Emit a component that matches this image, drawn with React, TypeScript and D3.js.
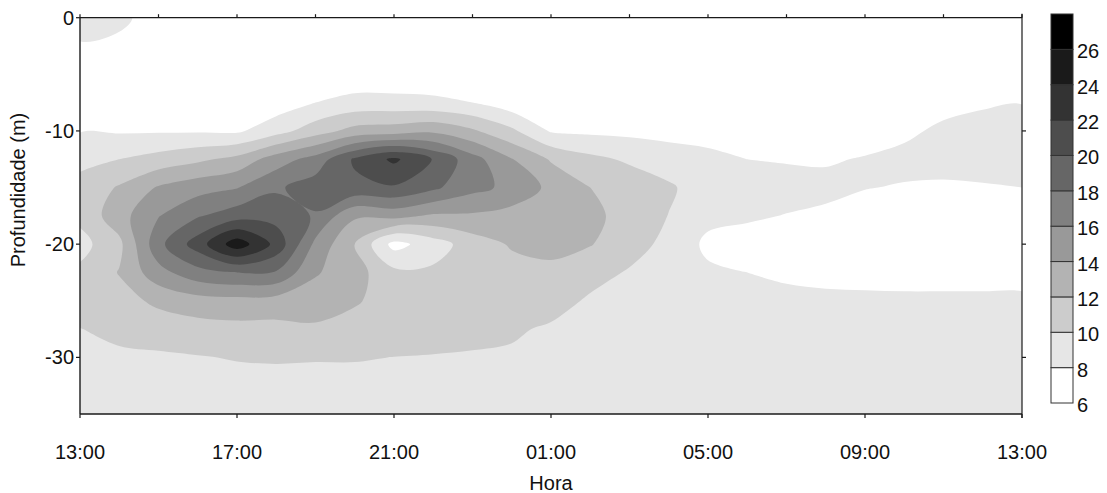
import React from 'react';
import * as d3 from 'd3';

// grid: hours after 13:00 (columns) x depth in m (rows)
const horas = [0, 1, 2, 3, 4, 5, 6, 7, 8, 9, 10, 11, 12, 13, 14, 15, 16, 17, 18, 19, 20, 21, 22, 23, 24];
const profundidades = [0, -2.5, -5, -7.5, -10, -12.5, -15, -17.5, -20, -22.5, -25, -27.5, -30, -32.5, -35];

// values, one row per depth
const p00 = [9.0, 8.4, 7.2, 7.0, 6.8, 6.7, 6.6, 6.5, 6.4, 6.4, 6.4, 6.4, 6.4, 6.4, 6.4, 6.4, 6.4, 6.4, 6.4, 6.4, 6.4, 6.4, 6.5, 6.6, 6.6];
const p25 = [7.8, 7.6, 7.0, 6.9, 6.8, 6.7, 6.6, 6.5, 6.4, 6.4, 6.4, 6.4, 6.4, 6.4, 6.4, 6.4, 6.5, 6.5, 6.5, 6.5, 6.5, 6.5, 6.6, 6.7, 6.8];
const p50 = [7.2, 7.0, 6.9, 6.9, 6.8, 6.7, 6.7, 6.6, 6.5, 6.5, 6.6, 6.6, 6.6, 6.5, 6.5, 6.5, 6.6, 6.6, 6.6, 6.6, 6.6, 6.7, 6.8, 7.0, 7.2];
const p75 = [7.3, 7.2, 7.0, 7.0, 7.0, 6.9, 8.0, 8.7, 8.7, 8.5, 8.0, 6.8, 6.9, 6.8, 6.8, 6.8, 6.9, 6.9, 6.9, 6.9, 6.9, 7.1, 7.5, 7.8, 7.95];
const p100 = [7.9, 7.8, 7.8, 7.8, 7.7, 9.2, 11.1, 12.7, 13.0, 13.6, 12.3, 10.4, 7.8, 7.6, 7.5, 7.4, 7.4, 7.3, 7.3, 7.3, 7.3, 7.7, 8.3, 8.6, 8.7];
const p125 = [9.5, 10.0, 10.75, 11.6, 12.6, 15.0, 16.8, 20.3, 22.4, 19.9, 16.8, 14.1, 11.8, 10.5, 9.7, 8.9, 8.4, 8.0, 7.9, 7.85, 8.1, 8.4, 8.5, 8.5, 8.6];
const p150 = [10.6, 12.2, 14.2, 15.2, 15.9, 17.7, 19.0, 19.5, 19.8, 18.4, 16.6, 15.5, 13.5, 12.0, 11.2, 10.3, 8.9, 8.7, 8.5, 8.4, 8.05, 7.9, 7.8, 7.9, 8.0];
const p175 = [10.5, 13.2, 15.9, 17.8, 19.1, 19.2, 17.8, 14.3, 14.7, 13.7, 13.7, 13.2, 13.6, 12.4, 11.4, 9.95, 8.5, 8.2, 7.95, 7.7, 7.4, 7.3, 7.3, 7.3, 7.4];
const p200 = [9.3, 11.5, 17.4, 21.0, 25.2, 21.4, 15.5, 12.0, 7.3, 9.0, 11.0, 12.2, 12.5, 12.1, 10.9, 9.4, 7.6, 7.4, 7.3, 7.2, 7.1, 7.0, 7.0, 7.0, 7.1];
const p225 = [10.4, 12.1, 15.3, 17.3, 18.0, 17.8, 14.2, 12.8, 10.5, 10.4, 11.2, 11.3, 11.6, 10.8, 9.8, 9.0, 8.3, 8.0, 7.8, 7.6, 7.5, 7.4, 7.4, 7.4, 7.4];
const p250 = [10.8, 11.3, 12.4, 13.2, 13.4, 13.2, 13.0, 12.2, 11.2, 11.0, 11.0, 10.9, 10.9, 9.7, 9.2, 8.7, 8.6, 8.4, 8.3, 8.3, 8.3, 8.3, 8.3, 8.3, 8.3];
const p275 = [9.95, 10.6, 11.0, 11.2, 11.4, 11.4, 11.7, 11.3, 11.0, 10.8, 10.6, 10.3, 9.7, 9.0, 8.8, 8.6, 8.6, 8.5, 8.5, 8.5, 8.5, 8.5, 8.5, 8.5, 8.5];
const p300 = [9.5, 9.6, 9.7, 9.9, 10.1, 10.15, 10.1, 10.1, 9.98, 9.9, 9.8, 9.7, 9.2, 8.7, 8.6, 8.5, 8.5, 8.5, 8.5, 8.5, 8.5, 8.5, 8.5, 8.5, 8.5];
const p325 = [9.1, 9.1, 9.2, 9.3, 9.4, 9.5, 9.5, 9.5, 9.5, 9.5, 9.4, 9.3, 9.0, 8.6, 8.5, 8.5, 8.5, 8.5, 8.5, 8.5, 8.5, 8.5, 8.5, 8.5, 8.5];
const p350 = [8.7, 8.8, 8.9, 9.0, 9.1, 9.2, 9.2, 9.2, 9.2, 9.2, 9.1, 9.1, 8.9, 8.6, 8.5, 8.5, 8.5, 8.5, 8.5, 8.5, 8.5, 8.5, 8.5, 8.5, 8.5];

const grade = [p00, p25, p50, p75, p100, p125, p150, p175, p200, p225, p250, p275, p300, p325, p350];

const niveis = [6, 8, 10, 12, 14, 16, 18, 20, 22, 24, 26, 28];
const horaTicks = [0, 4, 8, 12, 16, 20, 24];
const horaLabels = ['13:00', '17:00', '21:00', '01:00', '05:00', '09:00', '13:00'];
const horaMinor = [0, 2, 4, 6, 8, 10, 12, 14, 16, 18, 20, 22, 24];
const profTicks = [0, -10, -20, -30];

const font = '"Liberation Sans", Arial, sans-serif';
const fs = 20;

export default function App() {
  const left = 80, right = 1022, top = 17.7, bottom = 414;
  const x = d3.scaleLinear().domain([0, 24]).range([left, right]);
  const y = d3.scaleLinear().domain([0, -35]).range([top, bottom]);

  const nx = horas.length;
  const ny = profundidades.length;
  // d3.contours puts value i at grid position i + 0.5
  const gx = d3.scaleLinear().domain([0.5, nx - 0.5]).range([x(horas[0]), x(horas[nx - 1])]);
  const gy = d3.scaleLinear().domain([0.5, ny - 0.5]).range([y(profundidades[0]), y(profundidades[ny - 1])]);

  const cor = d3.scaleLinear<string>().domain([0, niveis.length - 2]).range(['#ffffff', '#000000']);
  const corDe = (v: number) => cor((v - niveis[0]) / 2);

  const contours = d3.contours().size([nx, ny]).thresholds(niveis.slice(1, -1))(grade.flat());
  const line = d3.line().curve(d3.curveCatmullRomClosed.alpha(0.5));

  const pathOf = (mp: any) =>
    mp.coordinates
      .map((poly: number[][][]) =>
        poly.map((ring) => line(ring.slice(0, -1).map(([a, b]) => [gx(a), gy(b)] as [number, number]))).join('')
      )
      .join('');

  // colour bar
  const cbX = 1051, cbW = 22, cbTop = 14, cbBottom = 403;
  const cb = d3.scaleLinear().domain([niveis[0], niveis[niveis.length - 1]]).range([cbBottom, cbTop]);

  const axis = '#1a1a1a';

  return (
    <svg width={1107} height={493} style={{ display: 'block', position: 'absolute', left: 0, top: 0 }}>
      <defs>
        <clipPath id="plot">
          <rect x={left} y={top} width={right - left} height={bottom - top} />
        </clipPath>
      </defs>
      <rect x={0} y={0} width={1107} height={493} fill="#fff" />

      <g clipPath="url(#plot)">
        <rect x={left} y={top} width={right - left} height={bottom - top} fill={corDe(niveis[0])} />
        {contours.map((c, i) => (
          <path key={i} d={pathOf(c)} fill={corDe(c.value)} fillRule="evenodd" stroke="none" />
        ))}
      </g>

      {/* frame */}
      <line x1={left} x2={right} y1={top} y2={top} stroke={axis} strokeWidth={1.2} />
      <line x1={left} x2={right} y1={bottom} y2={bottom} stroke={axis} strokeWidth={1.4} />
      <line x1={left} x2={left} y1={top} y2={bottom} stroke={axis} strokeWidth={1.4} />
      <line x1={right} x2={right} y1={top - 4} y2={bottom + 4} stroke={axis} strokeWidth={1.2} />

      {horaMinor.map((h) => (
        <line key={'t' + h} x1={x(h)} x2={x(h)} y1={top - 3.5} y2={top} stroke={axis} strokeWidth={1.2} />
      ))}
      {horaTicks.map((h, i) => (
        <g key={'b' + h}>
          <line x1={x(h)} x2={x(h)} y1={bottom} y2={bottom + 4} stroke={axis} strokeWidth={1.2} />
          <text x={x(h)} y={452} textAnchor="middle" dominantBaseline="central" fontFamily={font} fontSize={fs} fill="#111">
            {horaLabels[i]}
          </text>
        </g>
      ))}
      {profTicks.map((p) => (
        <g key={'l' + p}>
          <line x1={left - 4} x2={left} y1={y(p)} y2={y(p)} stroke={axis} strokeWidth={1.2} />
          {p !== 0 && <line x1={right} x2={right + 4} y1={y(p)} y2={y(p)} stroke={axis} strokeWidth={1.2} />}
          <text x={left - 6} y={y(p)} textAnchor="end" dominantBaseline="central" fontFamily={font} fontSize={fs} fill="#111">
            {p}
          </text>
        </g>
      ))}

      <text x={551} y={483} textAnchor="middle" dominantBaseline="central" fontFamily={font} fontSize={fs} fill="#111">
        Hora
      </text>
      <text transform="translate(18,190) rotate(-90)" textAnchor="middle" dominantBaseline="central" fontFamily={font} fontSize={fs} fill="#111">
        Profundidade (m)
      </text>

      {/* colour bar */}
      {niveis.slice(0, -1).map((v, i) => (
        <rect key={'c' + v} x={cbX} y={cb(niveis[i + 1])} width={cbW} height={cb(v) - cb(niveis[i + 1])} fill={corDe(v)} stroke="#333" strokeWidth={1} />
      ))}
      {niveis.slice(0, -1).map((v) => (
        <text key={'cl' + v} x={1077} y={cb(v) + 2} dominantBaseline="central" fontFamily={font} fontSize={fs} fill="#111">
          {v}
        </text>
      ))}
    </svg>
  );
}
